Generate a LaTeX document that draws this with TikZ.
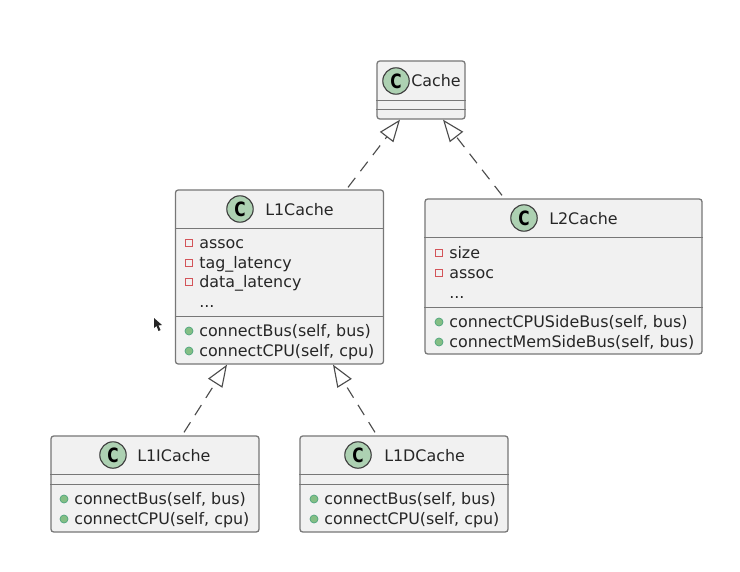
\documentclass[tikz,border=0pt]{standalone}
\usepackage{fontspec}
\setmainfont{DejaVu Sans}
\usetikzlibrary{arrows.meta}
\definecolor{boxgray}{HTML}{F1F1F1}
\definecolor{rulegray}{HTML}{777777}
\definecolor{spotgreen}{HTML}{ADD1B2}
\definecolor{privred}{HTML}{C82930}
\definecolor{pubgreen}{HTML}{84BE84}
\definecolor{pubedge}{HTML}{038048}
\tikzset{
  classbox/.style={draw=rulegray,fill=boxgray,rounded corners=2pt,line width=0.9pt,inner sep=0pt},
  classrule/.style={draw=rulegray,line width=0.7pt},
  spot/.style={circle,draw=black!75,fill=spotgreen,line width=0.8pt,minimum size=0.66cm,inner sep=0pt,font=\fontsize{14}{14}\selectfont\bfseries},
  title/.style={anchor=base west,inner sep=0pt,text=black!85,font=\fontsize{11.3}{13}\selectfont},
  member/.style={anchor=base west,inner sep=0pt,text=black!85,font=\fontsize{11.3}{13}\selectfont},
  privmark/.style={rectangle,draw=privred!80,fill=boxgray,line width=0.7pt,minimum size=0.18cm,inner sep=0pt},
  pubmark/.style={circle,draw=pubedge!70,fill=pubgreen,line width=0.5pt,minimum size=0.2cm,inner sep=0pt},
  realizes/.style={draw=black!70,dashed,dash pattern=on 8.5pt off 6pt,line width=0.8pt,-{Triangle[open,length=0.55cm,width=0.42cm,line width=0.8pt]}}
}
\newcommand{\spotletter}{\scalebox{0.78}[1]{C}}
\begin{document}
\begin{tikzpicture}[x=0.025cm,y=-0.025cm]
\useasboundingbox (0,0) rectangle (740,571);
% boxes
\node[classbox,minimum width=2.2cm,minimum height=1.45cm] (cache) at (421,90) {};
\node[classbox,minimum width=5.2cm,minimum height=4.35cm] (lonecache) at (279.5,277) {};
\node[classbox,minimum width=6.925cm,minimum height=3.875cm] (ltwocache) at (563.5,276.5) {};
\node[classbox,minimum width=5.2cm,minimum height=2.4cm] (lonei) at (155,484) {};
\node[classbox,minimum width=5.2cm,minimum height=2.4cm] (loned) at (404,484) {};
% compartment rules
\foreach \n/\y in {cache/100,cache/109,lonecache/228,lonecache/316,ltwocache/237,ltwocache/307,lonei/474,lonei/484,loned/474,loned/484}
  \draw[classrule] (\n.west |- 0,\y) -- (\n.east |- 0,\y);
% headers
\node[spot] (cachespot) at (396,81) {\spotletter};
\node[title] (cachetitle) at (411,87) {Cache};
\node[spot] (lonecachespot) at (240,209) {\spotletter};
\node[title] (lonecachetitle) at (265,215) {L1Cache};
\node[spot] (ltwocachespot) at (524,218) {\spotletter};
\node[title] (ltwocachetitle) at (549,224) {L2Cache};
\node[spot] (loneispot) at (113,455) {\spotletter};
\node[title] (loneititle) at (137,461) {L1ICache};
\node[spot] (lonedspot) at (358,455) {\spotletter};
\node[title] (lonedtitle) at (384,461) {L1DCache};
% fields
\foreach \x/\y/\t in {199/243/assoc,199/263/tag\_latency,199/282/data\_latency,449/253/size,449/273/assoc} {
  \node[privmark] (priv-\x-\y) at (\x-10,\y) {};
  \node[member] (field-\x-\y) at (\x,\y+5) {\t};
}
\node[member] (loneetc) at (199,307) {...};
\node[member] (ltwoetc) at (449,298) {...};
% methods
\foreach \x/\y/\t in {199/331/{connectBus(self, bus)},199/351/{connectCPU(self, cpu)},
    449/322/{connectCPUSideBus(self, bus)},449/342/{connectMemSideBus(self, bus)},
    74/499/{connectBus(self, bus)},74/519/{connectCPU(self, cpu)},
    324/499/{connectBus(self, bus)},324/519/{connectCPU(self, cpu)}} {
  \node[pubmark] (pub-\x-\y) at (\x-10,\y) {};
  \node[member] (method-\x-\y) at (\x,\y+5) {\t};
}
% inheritance
\draw[realizes] ([shift={(68.5,-2)}]lonecache.north) -- ([shift={(-21,0)}]cache.south);
\draw[realizes] ([shift={(-61.5,-3)}]ltwocache.north) -- ([shift={(22,0)}]cache.south);
\draw[realizes] ([shift={(29,-3)}]lonei.north) -- ([shift={(-52.5,0)}]lonecache.south);
\draw[realizes] ([shift={(-29,-3)}]loned.north) -- ([shift={(53.5,0)}]lonecache.south);
% mouse pointer
\fill[black!85] (154,318) -- (154,328) -- (156.5,326) -- (158.5,331) -- (160.5,330) -- (158.5,325.5) -- (162,325) -- cycle;
\end{tikzpicture}
\end{document}
